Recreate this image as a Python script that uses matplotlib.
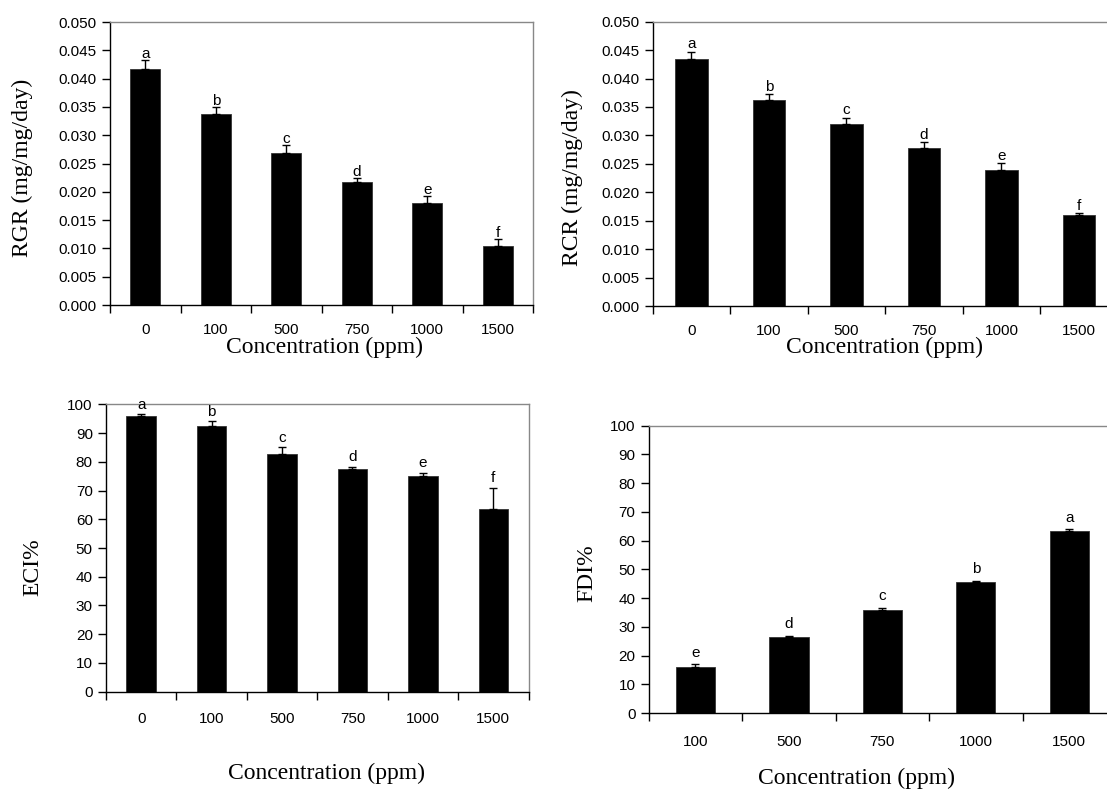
import matplotlib
matplotlib.use('Agg')
import matplotlib.pyplot as plt
import numpy as np

conc6 = ['0', '100', '500', '750', '1000', '1500']
conc5 = ['100', '500', '750', '1000', '1500']

rgr = [0.0417, 0.0337, 0.0268, 0.0217, 0.0181, 0.0104]
rgr_se = [0.0015, 0.0013, 0.0015, 0.0008, 0.0011, 0.0012]
rgr_let = ['a', 'b', 'c', 'd', 'e', 'f']

rcr = [0.0434, 0.0363, 0.0320, 0.0278, 0.0239, 0.0160]
rcr_se = [0.0013, 0.0009, 0.0011, 0.0010, 0.0012, 0.0003]
rcr_let = ['a', 'b', 'c', 'd', 'e', 'f']

eci = [95.9, 92.6, 82.8, 77.4, 75.1, 63.5]
eci_se = [0.6, 1.5, 2.3, 0.9, 1.1, 7.4]
eci_let = ['a', 'b', 'c', 'd', 'e', 'f']

fdi = [15.9, 26.5, 35.8, 45.5, 63.4]
fdi_se = [1.1, 0.3, 0.9, 0.6, 0.6]
fdi_let = ['e', 'd', 'c', 'b', 'a']

W, H = 1107, 796
SANS = 'Liberation Sans'
SERIF = 'Liberation Serif'

fig = plt.figure(figsize=(W / 100, H / 100), dpi=100)


def px_axes(l, r, t, b):
    return fig.add_axes([l / W, 1 - b / H, (r - l) / W, (b - t) / H])


def panel(ax, cats, vals, se, letters, ymax, ystep, fmt, xpad, letoff):
    n = len(cats)
    x = np.arange(n) + 0.5
    ax.bar(x, vals, width=0.42, color='black', edgecolor='#333333', linewidth=0.6, zorder=2)
    ax.errorbar(x, vals, yerr=[np.zeros(n), se], fmt='none', ecolor='black',
                elinewidth=1, capsize=3.2, capthick=1, zorder=3)
    for xi, v, e, l in zip(x, vals, se, letters):
        ax.annotate(l, (xi, v + e), xytext=(0, letoff), textcoords='offset points',
                    ha='center', va='baseline', fontsize=11, family=SANS)
    ax.set_xlim(0, n)
    ax.set_ylim(0, ymax)
    ax.set_yticks(np.arange(0, ymax + ystep / 2, ystep))
    ax.set_yticklabels([fmt.format(v) for v in np.arange(0, ymax + ystep / 2, ystep)],
                       family=SANS, fontsize=11)
    ax.set_xticks(np.arange(0, n + 1))
    ax.set_xticklabels([])
    ax.set_xticks(x, minor=True)
    ax.set_xticklabels(cats, minor=True, family=SANS, fontsize=11)
    ax.tick_params(axis='x', which='major', direction='out', length=5.5, width=1)
    ax.tick_params(axis='x', which='minor', length=0, pad=xpad)
    ax.tick_params(axis='y', direction='out', length=5.5, width=1, pad=4)
    for s in ['left', 'bottom']:
        ax.spines[s].set_color('black')
        ax.spines[s].set_linewidth(1)
    for s in ['top', 'right']:
        ax.spines[s].set_color('#888888')
        ax.spines[s].set_linewidth(1)


ax1 = px_axes(110, 533, 22, 305)
panel(ax1, conc6, rgr, rgr_se, rgr_let, 0.050, 0.005, '{:.3f}', 12.8, 1.5)
ax2 = px_axes(652.7, 1117.7, 21.7, 306)
panel(ax2, conc6, rcr, rcr_se, rcr_let, 0.050, 0.005, '{:.3f}', 12.8, 2.5)
ax3 = px_axes(106, 528.5, 404.3, 691.7)
panel(ax3, conc6, eci, eci_se, eci_let, 100, 10, '{:.0f}', 14.3, 4)
ax4 = px_axes(648.7, 1116, 425.7, 713.1)
panel(ax4, conc5, fdi, fdi_se, fdi_let, 100, 10, '{:.0f}', 16, 5.5)


def ftext(x, y, s, rot=0):
    fig.text(x / W, 1 - y / H, s, ha='center', va='center', rotation=rot,
             family=SERIF, fontsize=17)


ftext(324, 347, 'Concentration (ppm)')
ftext(884, 347, 'Concentration (ppm)')
ftext(326, 773, 'Concentration (ppm)')
ftext(857, 778, 'Concentration (ppm)')
ftext(22.5, 167.5, 'RGR (mg/mg/day)', 90)
ftext(572.5, 177.5, 'RCR (mg/mg/day)', 90)
ftext(33.3, 566.7, 'ECI%', 90)
ftext(586.7, 573.3, 'FDI%', 90)

fig.savefig('out.png', dpi=100)
